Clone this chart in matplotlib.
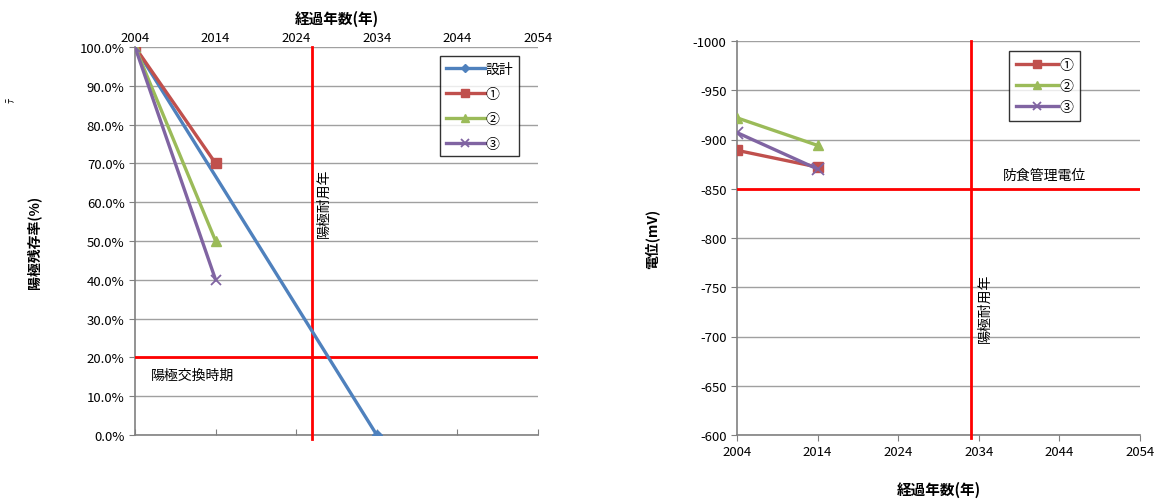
import matplotlib
matplotlib.use("Agg")
import matplotlib.pyplot as plt

plt.rcParams['font.family'] = ['Noto Sans CJK JP', 'DejaVu Sans']
plt.rcParams['axes.unicode_minus'] = False

# left chart: anode remaining ratio
years_design = [2004, 2034]
ratio_design = [1.0, 0.0]
years_meas = [2004, 2014]
ratio_1 = [1.0, 0.7]
ratio_2 = [1.0, 0.5]
ratio_3 = [1.0, 0.4]
replace_ratio = 0.2
life_year_left = 2026

# right chart: potential (mV)
pot_1 = [-889, -872]
pot_2 = [-922, -894]
pot_3 = [-907, -870]
protect_pot = -850
life_year_right = 2033

xticks = [2004, 2014, 2024, 2034, 2044, 2054]

c_blue = '#4F81BD'
c_red = '#C0504D'
c_green = '#9BBB59'
c_purple = '#8064A2'
grid_c = '#A0A0A0'
axis_c = '#808080'

W, H = 1160, 502
fig = plt.figure(figsize=(W / 100, H / 100), dpi=100)

ax1 = fig.add_axes([135 / W, 1 - 436 / H, (538 - 135) / W, (436 - 48) / H])
ax2 = fig.add_axes([737 / W, 1 - 436 / H, (1140 - 737) / W, (436 - 42) / H])

lw = 2.4
ax1.plot(years_design, ratio_design, color=c_blue, lw=lw, marker='D', ms=5, label='設計', zorder=5)
ax1.plot(years_meas, ratio_1, color=c_red, lw=lw, marker='s', ms=7, label='①', zorder=5)
ax1.plot(years_meas, ratio_2, color=c_green, lw=lw, marker='^', ms=7, label='②', zorder=5)
ax1.plot(years_meas, ratio_3, color=c_purple, lw=lw, marker='x', ms=7, mew=1.3, label='③', zorder=5)

ax1.axhline(replace_ratio, color='red', lw=2, zorder=4)
ax1.plot([life_year_left, life_year_left], [-0.01, 1.0], color='red', lw=2, zorder=4, clip_on=False)

ax1.set_xlim(2004, 2054)
ax1.set_ylim(0, 1.0)
ax1.set_xticks(xticks)
ax1.set_yticks([i / 10 for i in range(11)])
ax1.set_yticklabels([f'{i * 10:.1f}%' for i in range(11)])
ax1.yaxis.grid(True, color=grid_c, lw=1)
ax1.set_axisbelow(True)
ax1.tick_params(axis='x', top=False, bottom=True, labeltop=True, labelbottom=False,
                direction='in', length=4, color=axis_c, labelsize=9.5, pad=2)
ax1.tick_params(axis='y', direction='out', length=4, color=axis_c, labelsize=9.5)
for s in ['top', 'right']:
    ax1.spines[s].set_visible(False)
for s in ['left', 'bottom']:
    ax1.spines[s].set_color(axis_c)
    ax1.spines[s].set_linewidth(1.2)
ax1.xaxis.set_label_position('top')
ax1.set_xlabel('経過年数(年)', fontsize=10.5, fontweight='bold', labelpad=6)
ax1.set_ylabel('陽極残存率(%)', fontsize=10, fontweight='bold', labelpad=28)
ax1.text(2006, 0.155, '陽極交換時期', fontsize=10, va='center')
ax1.text(life_year_left + 0.6, 0.6, '陽極耐用年', fontsize=10, rotation=90, va='center', ha='left')

leg1 = ax1.legend(loc='upper left', bbox_to_anchor=(0.74, 0.995), frameon=True, fancybox=False,
                  edgecolor='black', fontsize=10, handlelength=2.8, labelspacing=0.8,
                  borderpad=0.4, handletextpad=0.1, markerscale=0.8)
leg1.get_frame().set_linewidth(1.0)

# right chart
ax2.plot(years_meas, pot_1, color=c_red, lw=lw, marker='s', ms=7, label='①', zorder=5)
ax2.plot(years_meas, pot_2, color=c_green, lw=lw, marker='^', ms=7, label='②', zorder=5)
ax2.plot(years_meas, pot_3, color=c_purple, lw=lw, marker='x', ms=8, mew=1.3, label='③', zorder=5)

ax2.axhline(protect_pot, color='red', lw=2, zorder=4)
ax2.plot([life_year_right, life_year_right], [-1000, -597], color='red', lw=2, zorder=4, clip_on=False)

ax2.set_xlim(2004, 2054)
ax2.set_ylim(-600, -1000)
ax2.set_xticks(xticks)
ax2.set_yticks(list(range(-1000, -550, 50)))
ax2.yaxis.grid(True, color=grid_c, lw=1)
ax2.set_axisbelow(True)
ax2.tick_params(axis='x', direction='out', length=4, color=axis_c, labelsize=9.5)
ax2.tick_params(axis='y', direction='out', length=4, color=axis_c, labelsize=9.5)
for s in ['top', 'right']:
    ax2.spines[s].set_visible(False)
for s in ['left', 'bottom']:
    ax2.spines[s].set_color(axis_c)
    ax2.spines[s].set_linewidth(1.2)
ax2.set_xlabel('経過年数(年)', fontsize=10.5, fontweight='bold', labelpad=16)
ax2.set_ylabel('電位(mV)', fontsize=10, fontweight='bold', labelpad=24)
ax2.text(2037, -864, '防食管理電位', fontsize=10, va='center')
ax2.text(life_year_right + 0.9, -730, '陽極耐用年', fontsize=10, rotation=90, va='center', ha='left')

leg2 = ax2.legend(loc='upper left', bbox_to_anchor=(0.675, 0.975), frameon=True, fancybox=False,
                  edgecolor='black', fontsize=10, handlelength=3.0, labelspacing=0.5,
                  borderpad=0.5, handletextpad=0.1, borderaxespad=0, markerscale=0.8)
leg2.get_frame().set_linewidth(1.0)
fr = leg2.get_frame()

fig.canvas.draw()
fr.set_width(fr.get_width() + 24)

fig.text(10 / W, 1 - 100 / H, 'ﾃ', fontsize=8, rotation=90, va='center', ha='center')

fig.savefig('out.png', dpi=100)
